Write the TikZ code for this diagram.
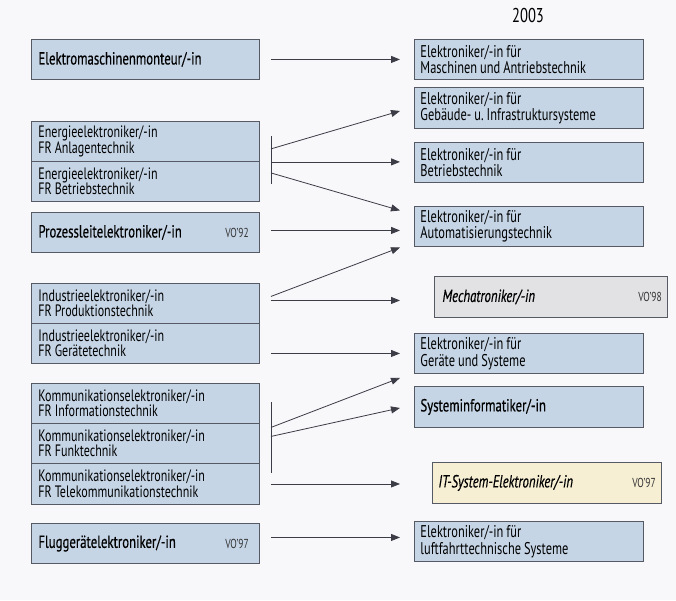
\documentclass[tikz,border=0pt]{standalone}
\usepackage{fontspec}
\setmainfont{PT Sans}[FakeStretch=0.73]
\newfontfamily\medfont{PT Sans}[FakeStretch=0.73,FakeBold=0.5]
\usetikzlibrary{arrows.meta,calc}
\definecolor{bgc}{RGB}{248,247,250}
\definecolor{boxblue}{RGB}{197,213,230}
\definecolor{boxgray}{RGB}{226,226,229}
\definecolor{boxyellow}{RGB}{246,239,212}
\definecolor{edgec}{RGB}{85,90,100}
\definecolor{linec}{RGB}{60,60,70}
\tikzset{
  box/.style={draw=edgec, line width=0.9pt, fill=boxblue, rectangle, anchor=north west,
    inner xsep=7pt, inner ysep=0pt, align=left, text width=214pt, minimum width=228pt, minimum height=40pt,
    execute at begin node={\spaceskip=3pt plus 1pt minus 0.5pt\relax}},
  rbox/.style={box, inner xsep=6pt, text width=217pt, minimum width=229pt},
  two/.style={font=\fontsize{16.5}{15.5}\selectfont},
  rtwo/.style={font=\fontsize{17}{16.5}\selectfont},
  one/.style={font=\medfont\fontsize{17.5}{17}\selectfont},
  vo/.style={anchor=east, inner sep=0pt, font=\fontsize{13}{13}\selectfont, text=black!80},
  conn/.style={draw=linec, line width=0.8pt},
  arr/.style={conn, -{Triangle[length=9pt,width=7pt]}}
}
\begin{document}
\begin{tikzpicture}[x=1pt,y=-1pt]
\fill[bgc] (0,0) rectangle (676,600);
\useasboundingbox (0,0) rectangle (676,600);
\node[font=\fontsize{20}{20}\selectfont] (year) at (528,15) {2003};
% left column
\node[box,one] (em) at (31,39) {Elektromaschinenmonteur/-in};
\node[box,two] (ea) at (31,121) {Energieelektroniker/-in\\FR Anlagentechnik};
\node[box,two] (eb) at (31,161) {Energieelektroniker/-in\\FR Betriebstechnik};
\node[box,one] (pz) at (31,212) {Prozessleitelektroniker/-in};
\node[vo] (pzvo) at ($(pz.east)+(-11,0)$) {VO'92};
\node[box,two] (ip) at (31,283) {Industrieelektroniker/-in\\FR Produktionstechnik};
\node[box,two] (ig) at (31,323) {Industrieelektroniker/-in\\FR Gerätetechnik};
\node[box,two] (ki) at (31,383) {Kommunikationselektroniker/-in\\FR Informationstechnik};
\node[box,two] (kf) at (31,423) {Kommunikationselektroniker/-in\\FR Funktechnik};
\node[box,two,minimum height=41pt] (kt) at (31,463) {Kommunikationselektroniker/-in\\FR Telekommunikationstechnik};
\node[box,one] (fl) at (31,523) {Fluggerätelektroniker/-in};
\node[vo] (flvo) at ($(fl.east)+(-11,0)$) {VO'97};
% right column
\node[rbox,rtwo] (ma) at (414,39) {Elektroniker/-in für\\Maschinen und Antriebstechnik};
\node[rbox,rtwo,minimum height=41pt] (geb) at (414,87) {Elektroniker/-in für\\Gebäude- u.\ Infrastruktursysteme};
\node[rbox,rtwo] (bet) at (414,142) {Elektroniker/-in für\\Betriebstechnik};
\node[rbox,rtwo] (aut) at (414,206) {Elektroniker/-in für\\Automatisierungstechnik};
\node[rbox,one,fill=boxgray,inner xsep=8pt,minimum height=41pt] (mech) at (434,276) {\itshape Mechatroniker/-in};
\node[vo] (mechvo) at ($(mech.east)+(-6,0)$) {VO'98};
\node[rbox,rtwo] (ger) at (414,333) {Elektroniker/-in für\\Geräte und Systeme};
\node[rbox,one,minimum height=41pt] (sys) at (414,386) {Systeminformatiker/-in};
\node[rbox,one,fill=boxyellow,minimum height=41pt] (it) at (432,462) {\itshape IT-System-Elektroniker/-in};
\node[vo] (itvo) at ($(it.east)+(-6,0)$) {VO'97};
\node[rbox,rtwo] (lu) at (414,521) {Elektroniker/-in für\\luftfahrttechnische Systeme};
% connectors
\draw[arr] ([xshift=11pt]em.east) -- ([xshift=-14pt]ma.west);
\draw[conn] ([xshift=11pt,yshift=26pt]ea.south east) -- ([xshift=11pt,yshift=-22pt]ea.south east);
\draw[arr] ([xshift=11pt,yshift=13pt]ea.south east) -- ([xshift=-14pt,yshift=-3pt]geb.west);
\draw[arr] ([xshift=11pt]ea.south east) -- ([xshift=-14pt]ea.south east -| bet.west);
\draw[arr] ([xshift=11pt,yshift=-11pt]ea.south east) -- ([xshift=-14pt,yshift=16pt]aut.west);
\draw[arr] ([xshift=11pt,yshift=2pt]pz.east) -- ([xshift=-14pt,yshift=2pt]pz.east -| aut.west);
\draw[arr] ([xshift=11pt,yshift=7pt]ip.east) -- ([xshift=-14pt,yshift=-21pt]aut.west);
\draw[arr] ([xshift=11pt,yshift=3pt]ip.east) -- ([xshift=-14pt,yshift=3pt]ip.east -| ger.west);
\draw[arr] ([xshift=11pt]ig.east |- ger.west) -- ([xshift=-14pt]ger.west);
\draw[conn] ([xshift=11pt,yshift=41pt]kf.east) -- ([xshift=11pt,yshift=-30pt]kf.east);
\draw[arr] ([xshift=11pt,yshift=16pt]kf.east) -- ([xshift=-14pt,yshift=-4pt]ger.south west);
\draw[arr] ([xshift=11pt,yshift=7pt]kf.east) -- ([xshift=-14pt,yshift=-1pt]sys.west);
\draw[arr] ([xshift=11pt]kt.east) -- ([xshift=-14pt]kt.east -| ger.west);
\draw[arr] ([xshift=11pt,yshift=6pt]fl.east) -- ([xshift=-14pt,yshift=6pt]fl.east -| lu.west);
\end{tikzpicture}
\end{document}
